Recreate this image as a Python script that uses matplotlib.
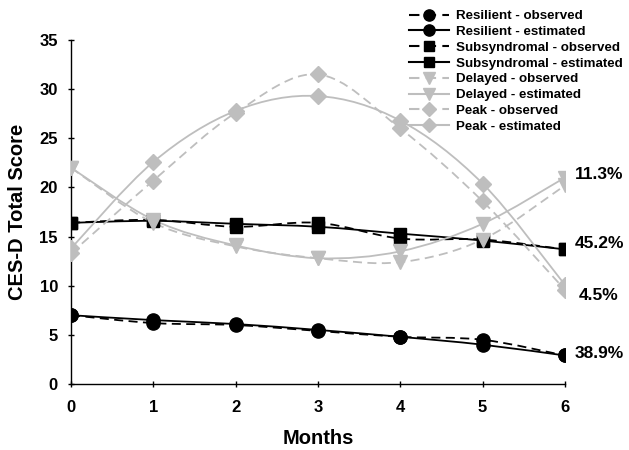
import matplotlib
matplotlib.use("Agg")
import matplotlib.pyplot as plt
from matplotlib.path import Path
from matplotlib.patches import PathPatch
from matplotlib.lines import Line2D
import numpy as np

plt.rcParams['font.family'] = ['Liberation Sans', 'DejaVu Sans']
plt.rcParams['font.weight'] = 'bold'

months = [0, 1, 2, 3, 4, 5, 6]
resilient_obs = [7.0, 6.2, 6.0, 5.4, 4.8, 4.5, 2.9]
resilient_est = [7.0, 6.5, 6.1, 5.5, 4.8, 4.0, 2.9]
subsyn_obs = [16.4, 16.7, 16.0, 16.4, 14.8, 14.7, 13.7]
subsyn_est = [16.4, 16.6, 16.3, 16.0, 15.3, 14.6, 13.7]
delayed_obs = [22.0, 16.4, 14.0, 12.8, 12.4, 14.7, 20.2]
delayed_est = [22.0, 16.7, 14.1, 12.8, 13.5, 16.3, 21.0]
peak_obs = [13.3, 20.7, 27.6, 31.5, 26.0, 18.6, 9.6]
peak_est = [13.8, 22.6, 27.8, 29.3, 26.8, 20.4, 10.1]
end_labels = ['11.3%', '45.2%', '4.5%', '38.9%']
end_label_y = [21.3, 14.3, 9.0, 3.1]
end_label_x = [6.12, 6.12, 6.17, 6.12]

GRAY = '#BEBEBE'


def smooth_path(x, y):
    p = np.column_stack([x, y]).astype(float)
    n = len(p)
    verts = [p[0]]
    codes = [Path.MOVETO]
    for i in range(n - 1):
        p0 = p[i - 1] if i > 0 else p[i]
        p3 = p[i + 2] if i + 2 < n else p[i + 1]
        c1 = p[i] + (p[i + 1] - p0) / 6.0
        c2 = p[i + 1] - (p3 - p[i]) / 6.0
        verts += [c1, c2, p[i + 1]]
        codes += [Path.CURVE4] * 3
    return Path(verts, codes)


fig = plt.figure(figsize=(6.29, 4.5), dpi=100)
ax = fig.add_axes([0.113, 0.1467, 0.785, 0.7643])

series = [
    ('Resilient - observed', resilient_obs, 'black', 'o', (0, (5, 3)), 9.5),
    ('Resilient - estimated', resilient_est, 'black', 'o', '-', 9.5),
    ('Subsyndromal - observed', subsyn_obs, 'black', 's', (0, (5, 3)), 8.5),
    ('Subsyndromal - estimated', subsyn_est, 'black', 's', '-', 8.5),
    ('Delayed - observed', delayed_obs, GRAY, 'v', (0, (5, 3)), 9.5),
    ('Delayed - estimated', delayed_est, GRAY, 'v', '-', 9.5),
    ('Peak - observed', peak_obs, GRAY, 'D', (0, (5, 3)), 8),
    ('Peak - estimated', peak_est, GRAY, 'D', '-', 8),
]

handles = []
for label, vals, col, mk, ls, ms in series:
    patch = PathPatch(smooth_path(months, vals), facecolor='none', edgecolor=col,
                      lw=1.3, linestyle=ls, zorder=2)
    ax.add_patch(patch)
    ax.plot(months, vals, linestyle='none', marker=mk, color=col, ms=ms, zorder=3)
    handles.append(Line2D([], [], color=col, lw=1.5, linestyle=ls, marker=mk, ms=ms * 0.85))

ax.set_xlim(0, 6)
ax.set_ylim(0, 35)
ax.set_xticks(months)
ax.set_yticks(range(0, 36, 5))
for s in ['top', 'right']:
    ax.spines[s].set_visible(False)
ax.spines['left'].set_linewidth(1.0)
ax.spines['bottom'].set_linewidth(1.0)
ax.tick_params(axis='both', labelsize=12, length=5, width=1.0, direction='inout')
ax.tick_params(axis='x', pad=9)
ax.tick_params(axis='y', pad=7)
for t in ax.get_xticklabels() + ax.get_yticklabels():
    t.set_fontweight('bold')
ax.set_xlabel('Months', fontsize=14.5, fontweight='bold', labelpad=10)
ax.set_ylabel('CES-D Total Score', fontsize=14.5, fontweight='bold', labelpad=9)

for txt, xv, yv in zip(end_labels, end_label_x, end_label_y):
    ax.text(xv, yv, txt, fontsize=12.5, fontweight='bold', va='center', ha='left',
            clip_on=False)

leg = fig.legend(handles=handles, labels=[s[0] for s in series], loc='upper left',
                 bbox_to_anchor=(0.642, 0.99), frameon=False,
                 handlelength=3.0, handletextpad=0.55, labelspacing=0.26,
                 borderaxespad=0, prop={'weight': 'bold', 'size': 9.6})

fig.savefig('out.png', dpi=100)
